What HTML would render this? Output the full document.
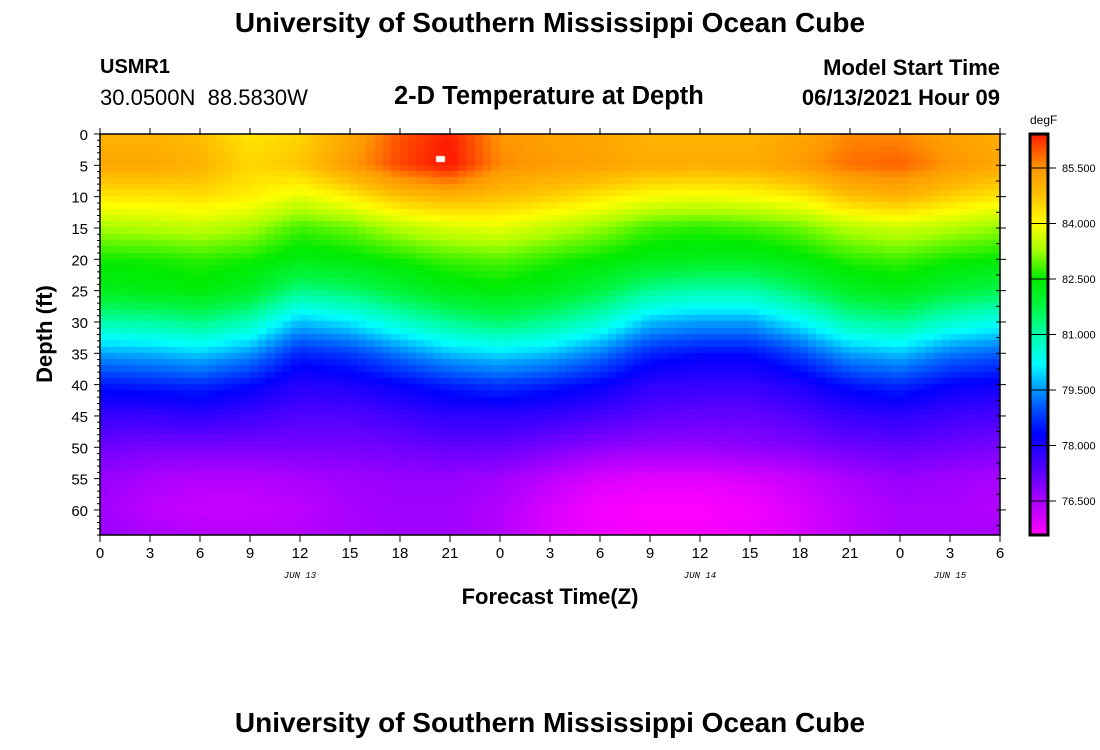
<!DOCTYPE html>
<html><head><meta charset="utf-8">
<style>
html,body{margin:0;padding:0;background:#fff;width:1100px;height:750px;overflow:hidden}
.t{position:absolute;font-family:"Liberation Sans",sans-serif;color:#000;white-space:nowrap}
</style></head><body>
<div class="t" style="left:0;width:1100px;text-align:center;top:7px;font-size:28px;font-weight:bold">University of Southern Mississippi Ocean Cube</div>
<div class="t" style="left:100px;top:56px;font-size:20px;font-weight:bold">USMR1</div>
<div class="t" style="left:100px;top:85px;font-size:22px">30.0500N&nbsp; 88.5830W</div>
<div class="t" style="left:394px;top:82px;font-size:25.5px;font-weight:bold">2-D Temperature at Depth</div>
<div class="t" style="right:100px;top:55px;font-size:22px;font-weight:bold">Model Start Time</div>
<div class="t" style="right:100px;top:85px;font-size:22px;font-weight:bold">06/13/2021 Hour 09</div>
<div class="t" style="left:45px;top:334px;font-size:22px;font-weight:bold;transform:translate(-50%,-50%) rotate(-90deg)">Depth (ft)</div>
<div class="t" style="left:0;width:1100px;text-align:center;top:584px;font-size:22px;font-weight:bold">Forecast Time(Z)</div>
<div class="t" style="left:0;width:1100px;text-align:center;top:707px;font-size:28px;font-weight:bold">University of Southern Mississippi Ocean Cube</div>
<div class="t" style="left:1030px;top:113px;font-size:12px">degF</div>
<canvas id="hm" width="900" height="401" style="position:absolute;left:100px;top:134px"></canvas>
<svg id="ax" width="1100" height="750" style="position:absolute;left:0;top:0"></svg>
<script>
const hours=[0,3,6,9,12,15,18,21,24,27,30,33,36,39,42,45,48,51,54];
const depths=[0,5,10,15,20,25,30,35,40,45,50,55,60,64];
const xTickLabels=['0','3','6','9','12','15','18','21','0','3','6','9','12','15','18','21','0','3','6'];
const yTicks=[0,5,10,15,20,25,30,35,40,45,50,55,60];
const cbTicks=[85.5,84.0,82.5,81.0,79.5,78.0,76.5];
const dateLabels=['JUN 13','JUN 14','JUN 15'];
const dateHours=[12,36,51];
const temps=[
[85.0,85.0,84.8,84.3,84.5,85.2,86.0,86.4,85.5,85.3,85.2,85.0,85.0,85.0,85.2,85.6,85.6,85.3,85.1],
[85.2,85.2,85.0,84.5,84.7,85.4,86.1,86.5,85.6,85.4,85.3,85.1,85.1,85.1,85.4,85.8,85.9,85.5,85.2],
[84.3,84.3,84.4,84.2,83.8,84.2,84.8,85.0,84.8,84.6,84.3,84.0,83.9,84.0,84.2,84.8,85.0,84.6,84.3],
[83.3,83.4,83.5,83.3,82.8,83.0,83.4,83.7,83.8,83.5,83.2,82.8,82.7,82.8,83.0,83.4,83.6,83.4,83.2],
[82.6,82.6,82.7,82.6,82.3,82.4,82.6,82.8,82.9,82.7,82.5,82.3,82.2,82.2,82.4,82.7,82.8,82.6,82.5],
[82.2,82.3,82.4,82.1,81.3,81.5,81.9,82.3,82.4,82.2,81.8,81.2,81.0,81.0,81.5,82.1,82.3,81.9,81.7],
[81.0,81.1,81.3,80.9,79.8,80.1,80.7,81.2,81.5,81.2,80.7,79.8,79.6,79.6,80.2,81.0,81.2,80.7,80.4],
[79.6,79.7,79.9,79.5,78.6,78.8,79.3,79.8,80.0,79.8,79.3,78.6,78.4,78.4,78.9,79.6,79.8,79.3,79.1],
[78.5,78.6,78.7,78.4,77.9,78.0,78.3,78.6,78.8,78.6,78.3,77.8,77.7,77.7,78.0,78.5,78.7,78.3,78.2],
[77.7,77.7,77.8,77.6,77.4,77.4,77.6,77.8,77.8,77.7,77.5,77.3,77.2,77.2,77.4,77.7,77.8,77.6,77.5],
[77.1,77.0,77.0,77.0,77.0,77.0,77.1,77.2,77.2,77.0,76.8,76.7,76.7,76.8,76.9,77.1,77.2,77.1,77.0],
[76.7,76.5,76.4,76.4,76.5,76.6,76.7,76.7,76.6,76.3,76.0,75.9,75.9,76.0,76.2,76.5,76.7,76.6,76.5],
[76.6,76.3,76.2,76.2,76.3,76.5,76.6,76.6,76.4,76.0,75.7,75.6,75.6,75.7,76.0,76.3,76.5,76.5,76.4],
[76.7,76.5,76.4,76.4,76.4,76.5,76.6,76.6,76.4,76.0,75.8,75.7,75.7,75.8,76.0,76.3,76.5,76.5,76.5]];
const markerHour=20.4, markerDepth=4;

const X0=100,X1=1000,Y0=134,Y1=535,H0=0,H1=54,D0=0,D1=64,T0=75.58,T1=86.42;
const xs=h=>X0+(h-H0)/(H1-H0)*(X1-X0);
const ys=d=>Y0+(d-D0)/(D1-D0)*(Y1-Y0);
const cy=t=>Y1-(t-T0)/(T1-T0)*(Y1-Y0);
const stops=[[75.6,[255,0,255]],[76.5,[170,0,255]],[77.5,[70,0,255]],[78.3,[0,0,255]],[78.9,[0,70,255]],[79.5,[0,150,255]],[80.2,[0,255,255]],[81.0,[0,255,170]],[81.8,[0,245,60]],[82.5,[0,235,0]],[83.3,[170,255,0]],[84.0,[255,255,0]],[84.8,[255,190,0]],[85.5,[255,150,0]],[86.4,[255,30,0]]];
function col(t){
  if(t<=stops[0][0])return stops[0][1];
  for(let i=1;i<stops.length;i++){if(t<=stops[i][0]){const a=stops[i-1],b=stops[i],f=(t-a[0])/(b[0]-a[0]);return a[1].map((v,k)=>Math.round(v+(b[1][k]-v)*f));}}
  return stops[stops.length-1][1];
}
function interp(arr,v){let i=0;while(i<arr.length-2&&v>arr[i+1])i++;return [i,Math.max(0,Math.min(1,(v-arr[i])/(arr[i+1]-arr[i])))];}
function tempAt(h,d){const [i,fx]=interp(hours,h),[j,fy]=interp(depths,d);
  const a=temps[j][i],b=temps[j][i+1],c=temps[j+1][i],e=temps[j+1][i+1];
  return a*(1-fx)*(1-fy)+b*fx*(1-fy)+c*(1-fx)*fy+e*fx*fy;}
const ctx=document.getElementById('hm').getContext('2d');
for(let h=0;h<54;h+=0.5){for(let d=0;d<64;d+=1){
  const c=col(tempAt(h+0.25,d+0.5));ctx.fillStyle=`rgb(${c[0]},${c[1]},${c[2]})`;
  const x=xs(h)-X0,y=ys(d)-Y0;ctx.fillRect(Math.floor(x),Math.floor(y),Math.ceil(xs(h+0.5)-xs(h))+1,Math.ceil(ys(d+1)-ys(d))+1);}}
ctx.fillStyle='#fff';ctx.fillRect(xs(markerHour)-X0-4,ys(markerDepth)-Y0-3,9,6);

const NS='http://www.w3.org/2000/svg',svg=document.getElementById('ax');
function el(tag,at,txt){const e=document.createElementNS(NS,tag);for(const k in at)e.setAttribute(k,at[k]);if(txt!==undefined)e.textContent=txt;svg.appendChild(e);return e;}
let r=el('rect',{x:X0,y:Y0,width:X1-X0,height:Y1-Y0,fill:'none',stroke:'#000','stroke-width':1.5});


hours.forEach((h,i)=>{const x=xs(h);
  el('line',{x1:x,x2:x,y1:Y1,y2:Y1+7,stroke:'#000'});
  el('line',{x1:x,x2:x,y1:Y0,y2:Y0-6,stroke:'#000'});
  const t=el('text',{x:x,y:Y1+23,'font-size':15,'text-anchor':'middle','font-family':'Liberation Sans, sans-serif'},xTickLabels[i]);
  
  });
for(let d=0;d<=64;d++){const y=ys(d);const big=d%5===0;
  el('line',{x1:X0-(big?6:3),x2:X0,y1:y,y2:y,stroke:'#000'});
  if(big){el('line',{x1:X1-4,x2:X1+6,y1:y,y2:y,stroke:'#000'});}}
for(let d=2.5;d<64;d+=5){const y=ys(d);el('line',{x1:X1-4,x2:X1,y1:y,y2:y,stroke:'#000'});}
yTicks.forEach(d=>{const t=el('text',{x:X0-12,y:ys(d)+6,'font-size':15,'text-anchor':'end','font-family':'Liberation Sans, sans-serif'},String(d));
  
  });
dateLabels.forEach((s,i)=>{const t=el('text',{x:xs(dateHours[i]),y:578,'font-size':9,'font-style':'italic','text-anchor':'middle','font-family':'Liberation Mono, monospace'},s);
  
  });
const CB0=1030,CB1=1048;
for(let y=Y0;y<Y1;y++){const t=T1-(y-Y0+0.5)/(Y1-Y0)*(T1-T0);const c=col(t);el('rect',{x:CB0,y:y,width:CB1-CB0,height:1.2,fill:`rgb(${c[0]},${c[1]},${c[2]})`});}
r=el('rect',{x:CB0,y:Y0,width:CB1-CB0,height:Y1-Y0,fill:'none',stroke:'#000','stroke-width':3});


cbTicks.forEach(t=>{const y=cy(t);el('line',{x1:CB0,x2:CB1+8,y1:y,y2:y,stroke:'#000'});
  const tx=el('text',{x:CB1+14,y:y+4,'font-size':11,'font-family':'Liberation Sans, sans-serif'},t.toFixed(3));
  
  });
</script>
</body></html>
